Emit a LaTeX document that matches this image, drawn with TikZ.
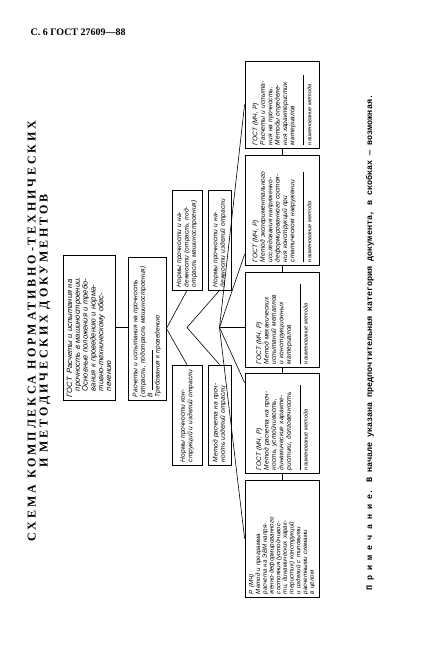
\documentclass[tikz,border=0pt]{standalone}
\usepackage{fontspec}
\setmainfont{Liberation Serif}
\newfontfamily\handfont{Liberation Sans}
\newfontfamily\typefont{Liberation Mono}
\usetikzlibrary{positioning, calc}

\begin{document}
\begin{tikzpicture}[x=1pt, y=1pt,
  docbox/.style={draw, line width=0.8pt, rotate=90, inner sep=2pt, align=left,
    font=\handfont\itshape\fontsize{6.6}{7.4}\selectfont},
  link/.style={line width=0.6pt}]
  \useasboundingbox (0,0) rectangle (432,-661);

  % page head, title and note
  \node[anchor=west, font=\bfseries\fontsize{10}{12}\selectfont] (head) at (27,-32) {С. 6 ГОСТ 27609—88};
  \node[rotate=90, align=center, font=\bfseries\fontsize{12}{12}\selectfont\addfontfeature{LetterSpace=24}]
    (title) at (39,-331) {СХЕМА КОМПЛЕКСА НОРМАТИВНО-ТЕХНИЧЕСКИХ\\И МЕТОДИЧЕСКИХ ДОКУМЕНТОВ};
  \node[rotate=90, anchor=west, font=\typefont\bfseries\fontsize{8.4}{10}\selectfont] (note) at (370,-594)
    {П р и м е ч а н и е. В начале указана предпочтительная категория документа, в скобках — возможная.};

  % root and branch standard
  \node[docbox, minimum width=145pt, minimum height=52pt, text width=139pt,
        font=\handfont\itshape\fontsize{7.6}{7.8}\selectfont] (root) at (89,-327.5)
    {ГОСТ\enspace Расчеты и испытания на\\
     \hspace*{6pt}прочность в машиностроении.\\
     \hspace*{6pt}Основные положения и требо-\\
     \hspace*{6pt}вания к проведению и норма-\\
     \hspace*{6pt}тивно-техническому обес-\\
     \hspace*{6pt}печению};
  \node[docbox, minimum width=143pt, minimum height=38pt, text width=137pt] (req) at (147,-328.5)
    {Расчеты и испытания на прочность\\
     (отрасль, подотрасль машиностроения)\\
     В \rule{40pt}{0.4pt}\\
     Требования к проведению};

  % industry norms and methods
  \node[docbox, minimum width=100pt, minimum height=30pt, text width=94pt] (aup) at (187,-240)
    {Нормы прочности и на-\\дежности (отрасль, под-\\отрасль машиностроения)};
  \node[docbox, minimum width=100pt, minimum height=23pt, text width=94pt] (bup) at (219.5,-240)
    {Нормы прочности и на-\\дежности изделий отрасли};
  \node[docbox, minimum width=100pt, minimum height=30pt, text width=94pt] (adown) at (187,-415)
    {Нормы прочности кон-\\струкций и изделий отрасли};
  \node[docbox, minimum width=100pt, minimum height=23pt, text width=94pt] (bdown) at (219.5,-415)
    {Метод расчета на проч-\\ность изделий отрасли};

  % method standards
  \node[docbox, minimum width=87pt, minimum height=74pt, text width=81pt] (r1) at (282,-104.5)
    {ГОСТ (МЧ, Р)\\Расчеты и испыта-\\ния на прочность.\\Методы определе-\\ния характеристик\\материалов\\[2pt]
     \rule{70pt}{0.4pt}\\{\fontsize{5.6}{6.5}\selectfont наименование метода}};
  \node[docbox, minimum width=110pt, minimum height=74pt, text width=104pt] (r2) at (282,-210)
    {ГОСТ (МЧ, Р)\\Метод экспериментального\\исследования напряженно-\\деформированного состоя-\\ния конструкций при\\статическом нагружении\\[2pt]
     \rule{90pt}{0.4pt}\\{\fontsize{5.6}{6.5}\selectfont наименование метода}};
  \node[docbox, minimum width=95pt, minimum height=74pt, text width=89pt] (r3) at (282,-319.5)
    {ГОСТ (МЧ, Р)\\Метод механических\\испытаний металлов\\и конструкционных\\материалов\\[2pt]
     \rule{80pt}{0.4pt}\\{\fontsize{5.6}{6.5}\selectfont наименование метода}};
  \node[docbox, minimum width=100pt, minimum height=74pt, text width=94pt] (r4) at (282,-423)
    {ГОСТ (МЧ, Р)\\Метод расчета на проч-\\ность, устойчивость,\\динамические характе-\\ристики, долговечность\\[2pt]
     \rule{85pt}{0.4pt}\\{\fontsize{5.6}{6.5}\selectfont наименование метода}};
  \node[docbox, minimum width=117pt, minimum height=74pt, text width=111pt,
        font=\handfont\itshape\fontsize{6.2}{6.7}\selectfont] (r5) at (282,-538.5)
    {Р (МЧ)\\Метод и программа\\расчета на ЭВМ напря-\\женно-деформированного\\состояния (устойчивос-\\ти, динамических харак-\\теристик) конструкций\\и изделий с типовыми\\расчетными схемами\\в целом};

  % connectors
  \draw[link] (root.south) -- (root.south -| req.north);
  \draw[link] (aup.west) -- (req.south) -- (adown.east);
  \coordinate (vb) at ($(aup.west)!0.5!(adown.east)$);
  \draw[link] (bup.west) -- (vb) -- (bdown.east);
  \coordinate (vr) at ($(bup.west)!0.5!(bdown.east)$);
  \draw[link] (vr) -- (r1.north);
  \draw[link] (vr) -- ($(r2.north west)!0.1!(r2.north east)$);
  \draw[link] (vr) -- (vr -| r3.north);
  \draw[link] (vr) -- ($(r4.north east)!0.1!(r4.north west)$);
  \draw[link] (vr) -- (r5.north);
  \foreach \a/\b in {r1/r2, r2/r3, r3/r4, r4/r5}
    \draw[link] (\a.west) -- (\b.east);
\end{tikzpicture}
\end{document}
